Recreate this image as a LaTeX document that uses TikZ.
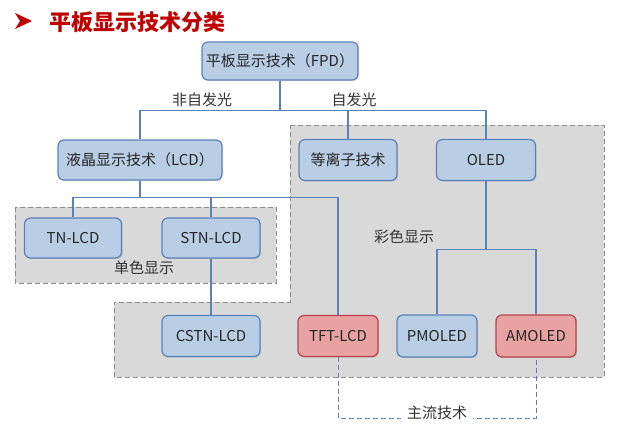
\documentclass[tikz,border=0pt]{standalone}
\usepackage{fontspec}
\setmainfont{Noto Sans CJK SC}
\usetikzlibrary{shadows}
\definecolor{boxblue}{HTML}{B9CDE5}
\definecolor{edgeblue}{HTML}{5B82B8}
\definecolor{boxred}{HTML}{E8A2A2}
\definecolor{edgered}{HTML}{B8434E}
\definecolor{zonegray}{HTML}{D9D9D9}
\definecolor{titlered}{HTML}{C00000}
\tikzset{
  techbox/.style={draw=edgeblue,fill=boxblue,line width=1.2pt,rounded corners=6pt,
    minimum height=40pt,inner sep=0pt,text=black!85,font=\fontsize{15}{17}\selectfont,
    drop shadow={opacity=0.25,shadow xshift=1.2pt,shadow yshift=-1.2pt}},
  mainbox/.style={techbox,draw=edgered,fill=boxred},
  link/.style={edgeblue,line width=1.2pt},
  zone/.style={draw=black!45,dash pattern=on 5pt off 3pt,fill=zonegray,line width=1pt},
  tag/.style={text=black!80,font=\fontsize{15}{17}\selectfont,inner sep=1pt}
}
\begin{document}
\begin{tikzpicture}[x=1pt,y=-1pt]
  \useasboundingbox (0,0) rectangle (640,426);
  \fill [titlered] (15,13) -- (32,21) -- (15,29) -- (20,21) -- cycle;
  \node [text=titlered,font=\fontsize{22}{24}\selectfont\bfseries,anchor=west] (title) at (46,22) {平板显示技术分类};

  \draw [zone] (290,125) -- (604,125) -- (604,377) -- (114,377) -- (114,302) -- (290,302) -- cycle;
  \draw [zone] (15,207) rectangle (276,283);

  \node [techbox,minimum width=156pt,minimum height=38pt] (fpd) at (280,61) {平板显示技术（FPD）};
  \node [techbox,minimum width=164pt] (lcd) at (140,160) {液晶显示技术（LCD）};
  \node [techbox,minimum width=98pt,minimum height=41pt] (pdp) at (348,160) {等离子技术};
  \node [techbox,minimum width=99pt,minimum height=41pt] (oled) at (486,160) {OLED};
  \node [techbox,minimum width=97pt] (tn) at (73,238) {TN-LCD};
  \node [techbox,minimum width=98pt] (stn) at (211,238) {STN-LCD};
  \node [techbox,minimum width=98pt,minimum height=41pt] (cstn) at (211,336) {CSTN-LCD};
  \node [mainbox,minimum width=80pt,minimum height=41pt] (tft) at (338,336) {TFT-LCD};
  \node [techbox,minimum width=80pt,minimum height=42pt] (pmoled) at (437,336) {PMOLED};
  \node [mainbox,minimum width=80pt,minimum height=42pt] (amoled) at (536,336) {AMOLED};

  \draw [link] (fpd.south) -- ++(0,30) -| (lcd.north);
  \draw [link] (fpd.south) -- ++(0,30) -| (pdp.north);
  \draw [link] (fpd.south) -- ++(0,30) -| (oled.north);
  \draw [link] (lcd.south) -- ++(0,17) -| (tn.north);
  \draw [link] (lcd.south) -- ++(0,17) -| (stn.north);
  \draw [link] (lcd.south) -- ++(0,17) -| (tft.north);
  \draw [link] (stn.south) -- (cstn.north);
  \draw [link] (oled.south) -- ++(0,68) -| (pmoled.north);
  \draw [link] (oled.south) -- ++(0,68) -| (amoled.north);
  \draw [link,dash pattern=on 5pt off 3pt,line width=1pt] (tft.south) -- ++(0,61) -| (amoled.south);

  \node [tag] (nonemit) at (202,100) {非自发光};
  \node [tag] (emit) at (354,100) {自发光};
  \node [tag] (mono) at (144,268) {单色显示};
  \node [tag] (color) at (404,237) {彩色显示};
  \node [tag,fill=white,inner xsep=6pt] (mainstream) at (437,413) {主流技术};
\end{tikzpicture}
\end{document}
